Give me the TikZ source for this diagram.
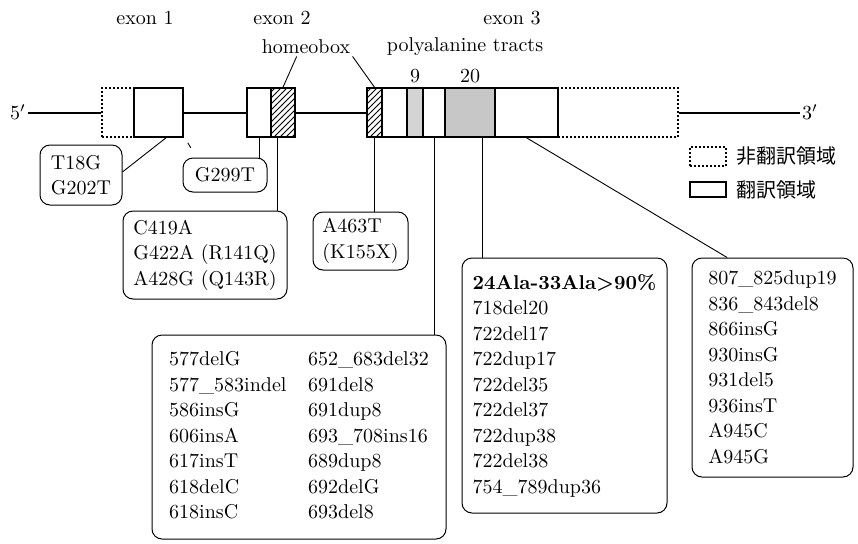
\documentclass[tikz,border=0pt]{standalone}
\usepackage{fontspec}
\newfontfamily\jpfont{Noto Sans CJK JP}
\usetikzlibrary{calc, patterns}
\usetikzlibrary{fit, positioning}

\begin{document}
\begin{tikzpicture}[
  x=0.5pt, y=-0.5pt,
  lab/.style={inner sep=1pt, font=\fontsize{10}{12}\selectfont},
  cds/.style={draw, line width=0.75pt, inner sep=0pt},
  utr/.style={draw, line width=0.6pt, dash pattern=on 1pt off 1pt, inner sep=0pt},
  hbox/.style={cds, pattern=north east lines},
  tract/.style={cds, fill=black!22},
  intron/.style={line width=1pt},
  mut/.style={
    draw, rounded corners=5pt, line width=0.5pt,
    align=left, inner sep=0pt, font=\fontsize{10}{12.75}\selectfont},
  link/.style={line width=0.45pt},
]
  \useasboundingbox (0,0) rectangle (858,543);

  % ── Exons ───────────────────────────────────────────────────────────────
  \node[utr,   fit={(102,88) (134,137)}] (ex1utr) {};
  \node[cds,   fit={(134,88) (183,137)}] (ex1cds) {};
  \node[cds,   fit={(247,88) (271,137)}] (ex2cds) {};
  \node[hbox,  fit={(271,88) (295,137)}] (ex2hb)  {};
  \node[utr,   fit={(558,88) (678,137)}] (ex3utr) {};
  \node[hbox,  fit={(367,88) (382,137)}] (ex3hb)  {};
  \node[cds,   fit={(382,88) (407,137)}] (ex3w1)  {};
  \node[tract, fit={(407,88) (423,137)}, fill=black!17] (ex3t9) {};
  \node[cds,   fit={(423,88) (445,137)}] (ex3w2)  {};
  \node[tract, fit={(445,88) (495,137)}] (ex3t20) {};
  \node[cds,   fit={(495,88) (558,137)}] (ex3w3)  {};

  % ── Labels ──────────────────────────────────────────────────────────────
  \node[lab] (exon1)   at (145,18) {exon 1};
  \node[lab] (exon2)   at (282,18) {exon 2};
  \node[lab] (exon3)   at (512,18) {exon 3};
  \node[lab] (homeo)   at (306,47) {homeobox};
  \node[lab] (polyala) at (465,47) {polyalanine tracts};
  \node[lab, above=1pt of ex3t9]  (n9)  {9};
  \node[lab, above=1pt of ex3t20] (n20) {20};
  \node[lab] (five)  at (18,112.5)  {5$'$};
  \node[lab] (three) at (810,112.5) {3$'$};

  % ── Introns ─────────────────────────────────────────────────────────────
  \draw[intron] (five)   -- (ex1utr);
  \draw[intron] (ex1cds) -- (ex2cds);
  \draw[intron] (ex2hb)  -- (ex3hb);
  \draw[intron] (ex3utr) -- (three);

  % homeobox pointers
  \draw[link] ($(homeo.south west)!0.4!(homeo.south east)$) -- (ex2hb.north);
  \draw[link] (homeo.south east) -- (ex3hb.north);

  % ── Legend ──────────────────────────────────────────────────────────────
  \node[utr, fit={(690,147) (726,166)}] (legutr) {};
  \node[cds, line width=0.6pt, fit={(690,182) (726,197)}] (legcds) {};
  \node[right=4.5pt of legutr, inner sep=0pt,
        font=\jpfont\fontsize{10}{12}\selectfont] (legutrtxt) {非翻訳領域};
  \node[right=4.5pt of legcds, inner sep=0pt,
        font=\jpfont\fontsize{10}{12}\selectfont] (legcdstxt) {翻訳領域};

  % ── Mutation boxes ──────────────────────────────────────────────────────
  \node[mut, minimum width=41pt, minimum height=30pt] (m1) at (81,175)
      {T18G\\G202T};
  \node[mut, minimum width=42pt, minimum height=17pt] (m2) at (225,175)
      {G299T};
  \node[mut, minimum width=82pt, minimum height=44pt] (m3) at (205,255)
      {C419A\\G422A (R141Q)\\A428G (Q143R)};
  \node[mut, minimum width=47.5pt, minimum height=29pt] (m4) at (360.5,241)
      {A463T\\(K155X)};
  \node[mut, minimum width=147pt, minimum height=102pt] (m5) at (299,437)
      {\begin{tabular}{@{}p{69.5pt}@{}l@{}}
         577delG      & 652\_683del32\\
         577\_583indel & 691del8\\
         586insG      & 691dup8\\
         606insA      & 693\_708ins16\\
         617insT      & 689dup8\\
         618delC      & 692delG\\
         618insC      & 693del8
       \end{tabular}};
  \node[mut, minimum width=102.5pt, minimum height=127.5pt] (m6) at (564.5,385.5)
      {\textbf{24Ala-33Ala{\boldmath$>$}90\%}\\718del20\\722del17\\722dup17\\
       722del35\\722del37\\722dup38\\722del38\\754\_789dup36};
  \node[mut, minimum width=80.5pt, minimum height=109.5pt] (m7) at (772.5,367.5)
      {807\_825dup19\\836\_843del8\\866insG\\930insG\\931del5\\936insT\\
       A945C\\A945G};

  % ── Connectors ──────────────────────────────────────────────────────────
  \draw[link] ($(ex1cds.south west)!0.65!(ex1cds.south east)$) --
      ($(m1.north east)!0.45!(m1.south east)$);
  \draw[link] ($(ex1cds.south east)+(4,5)$) -- ++(3,5);
  \draw[link] (ex2cds.south) -- (ex2cds.south |- m2.north);
  \coordinate (hbfoot) at ($(ex2hb.south west)!0.3!(ex2hb.south east)$);
  \draw[link] (hbfoot) -- (hbfoot |- m3.north);
  \draw[link] (ex3hb.south) -- (ex3hb.south |- m4.north);
  \draw[link] (ex3w2.south) -- (ex3w2.south |- m5.north);
  \coordinate (tfoot) at ($(ex3t20.south west)!0.74!(ex3t20.south east)$);
  \draw[link] (tfoot) -- (tfoot |- m6.north);
  \draw[link] (ex3w3.south) -- ($(m7.north west)!0.22!(m7.north east)$);

\end{tikzpicture}
\end{document}
